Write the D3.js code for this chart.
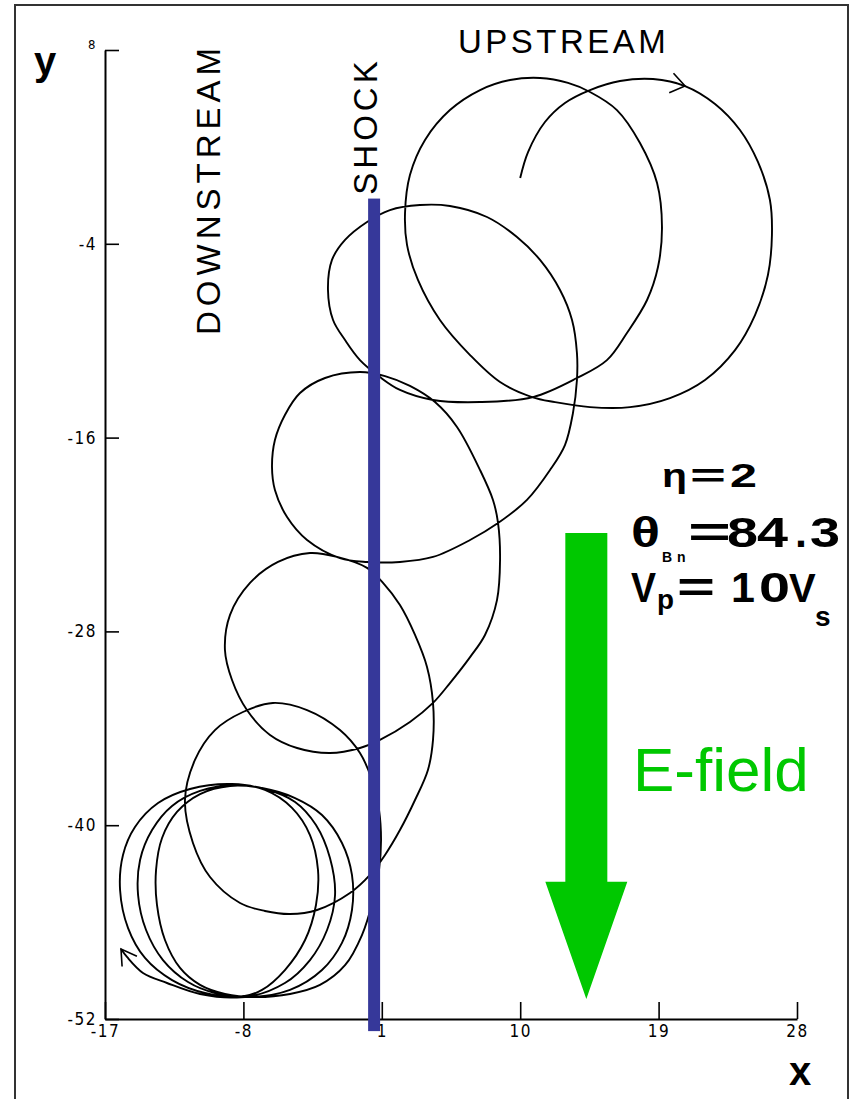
<!DOCTYPE html>
<html><head><meta charset="utf-8">
<script src="https://cdn.jsdelivr.net/npm/d3@7"></script>
<style>body{margin:0;background:#fff}svg{display:block}</style>
</head><body>
<svg id="c" width="853" height="1099"></svg>
<script>
// ---- data ----
const xTicks = [-17, -8, 1, 10, 19, 28];
const xTickLabels = ["-17", "-8", "1", "10", "19", "28"];
const yTicks = [8, -4, -16, -28, -40, -52];
const yTickLabels = ["8", "-4", "-16", "-28", "-40", "-52"];

// particle trajectory (x, y), in time order
const trajX = [10.0,10.51,11.61,12.91,14.54,16.49,18.64,20.72,22.67,24.29,25.46,26.24,26.37,26.11,25.27,23.97,22.02,19.74,17.14,14.54,
 12.26,10.77,8.69,6.74,4.78,3.35,2.64,2.51,2.83,3.81,5.43,7.39,9.34,11.29,13.11,14.54,16.29,17.79,18.90,19.22,
 18.96,18.25,16.94,15.64,13.69,10.83,7.39,4.33,2.18,0.88,-0.42,-1.39,-2.17,-2.50,-2.24,-1.39,0.04,1.53,3.48,5.43,
 7.84,9.79,11.29,12.59,13.37,13.69,13.69,13.43,12.91,11.94,10.44,8.56,6.74,4.33,2.18,0.04,-1.72,-3.86,-5.16,-5.95,
 -6.14,-5.95,-5.30,-4.32,-2.69,-0.42,1.21,2.83,4.46,5.89,7.39,8.23,8.56,8.69,8.49,7.71,6.74,5.43,4.33,2.83,
 0.88,-0.42,-2.37,-4.51,-6.27,-7.77,-8.74,-9.20,-8.87,-7.57,-5.75,-3.67,-1.91,0.04,1.08,2.18,3.16,3.94,4.33,4.33,
 4.00,3.16,2.18,1.21,0.23,-1.07,-3.21,-4.97,-6.60,-8.22,-10.17,-11.28,-11.80,-11.15,-9.85,-8.03,-6.08,-3.86,-1.72,-0.42,
 0.36,0.82,0.95,0.82,0.43,-0.29,-1.39,-3.02,-4.97,-7.25,-9.20,-10.82,-12.12,-13.10,-13.62,-13.68,-13.29,-12.32,-10.82,-8.87,
 -6.79,-4.64,-2.89,-1.59,-0.94,-0.94,-1.59,-2.89,-4.97,-7.57,-9.85,-11.60,-13.23,-14.33,-14.85,-14.72,-13.94,-12.64,-10.82,-8.55,
 -6.60,-4.64,-3.28,-2.37,-2.04,-2.56,-3.67,-5.30,-7.90,-10.50,-12.64,-14.40,-15.50,-16.02,-15.83,-15.05,-13.55,-11.47,-8.74,-6.60,
 -4.84,-3.67,-3.15,-3.28,-3.99,-5.30,-6.79,-8.22,-10.82,-12.97,-14.53,-15.57,-15.96];
const trajY = [0.07,1.68,3.54,4.72,5.52,6.08,6.20,5.77,4.66,3.05,1.07,-1.29,-3.46,-5.93,-8.41,-10.58,-12.43,-13.55,-14.11,-14.11,
 -13.80,-13.49,-12.56,-10.89,-8.72,-6.24,-4.07,-2.09,0.26,2.43,4.28,5.52,6.14,6.27,5.96,5.40,4.28,2.24,-0.24,-2.96,
 -5.44,-7.48,-9.52,-11.20,-12.31,-13.49,-13.80,-13.67,-13.05,-12.25,-11.20,-9.96,-8.72,-6.86,-5.00,-3.76,-2.65,-1.91,-1.60,-1.66,
 -2.34,-3.58,-5.00,-6.86,-8.72,-10.76,-12.43,-14.48,-16.46,-18.01,-19.86,-21.29,-22.34,-23.39,-23.70,-23.70,-23.46,-22.34,-20.92,-19.24,
 -17.82,-16.15,-14.60,-13.24,-12.31,-11.94,-12.19,-12.80,-13.80,-15.34,-18.01,-19.86,-21.29,-23.58,-26.06,-28.22,-29.59,-31.20,-32.43,-33.61,
 -34.72,-35.22,-35.53,-35.22,-34.41,-32.87,-31.01,-29.15,-26.98,-25.00,-23.70,-23.15,-23.39,-24.07,-25.00,-26.37,-28.22,-30.20,-32.43,-34.72,
 -36.58,-38.44,-40.30,-41.84,-43.08,-44.20,-45.25,-45.50,-45.31,-44.82,-43.21,-41.10,-38.44,-35.96,-34.11,-32.99,-32.43,-32.87,-34.11,-35.53,
 -37.20,-39.06,-40.92,-42.77,-44.63,-46.80,-48.67,-49.89,-50.45,-50.64,-50.45,-49.89,-48.84,-47.11,-44.94,-42.77,-40.79,-39.18,-38.07,-37.57,
 -37.70,-38.32,-39.37,-41.10,-43.08,-45.25,-47.29,-48.97,-50.20,-50.64,-50.39,-49.71,-48.35,-46.49,-44.32,-42.15,-40.30,-38.81,-37.88,-37.51,
 -37.76,-38.56,-39.99,-42.03,-44.32,-46.49,-48.35,-49.77,-50.64,-50.39,-49.59,-48.22,-46.37,-44.01,-41.84,-40.11,-38.63,-37.76,-37.45,-37.82,
 -38.93,-40.61,-42.77,-44.94,-47.11,-48.97,-50.20,-50.64,-50.45,-49.77,-49.15,-48.16,-47.67];

const shockX = 0.5, shockTop = -1.2, shockBottom = -52.75;
const efieldX = 14.3, efieldTop = -21.9, efieldHeadBase = -43.5, efieldTip = -50.76;
const midArrowIndex = 7;

// ---- drawing ----
const svg = d3.select("#c");
const FONT = "'Liberation Sans', Arial, Helvetica, sans-serif";
const TICKFONT = "'Liberation Sans Narrow', 'DejaVu Sans Condensed', 'DejaVu Sans', sans-serif";

svg.append("rect").attr("x",15).attr("y",5).attr("width",833).attr("height",1110)
  .attr("fill","none").attr("stroke","#333").attr("stroke-width",2);

const x = d3.scaleLinear().domain([-17, 28]).range([105, 797]);
const y = d3.scaleLinear().domain([-52, 8]).range([1019, 50]);

const gx = svg.append("g").attr("transform", `translate(0,${y(-52)})`)
  .call(d3.axisBottom(x).tickValues(xTicks).tickFormat((d,i)=>xTickLabels[i])
    .tickSizeInner(-17).tickSizeOuter(0).tickPadding(6));
const gy = svg.append("g").attr("transform", `translate(${x(-17)},0)`)
  .call(d3.axisLeft(y).tickValues(yTicks).tickFormat((d,i)=>yTickLabels[i])
    .tickSizeInner(-14).tickSizeOuter(0).tickPadding(8));
[gx, gy].forEach(g => {
  g.attr("font-size", null).attr("font-family", null);
  g.select(".domain").attr("stroke","#000").attr("stroke-width",2);
  g.selectAll(".tick line").attr("stroke","#000").attr("stroke-width",1.6);
  g.selectAll(".tick text").attr("fill","#000")
    .style("font-size","17px").style("font-family",TICKFONT).style("letter-spacing","1.5px");
});
gy.selectAll(".tick text").filter(d => d === 8).attr("dy","-0.1em").style("font-size","13px");

// trajectory
const idx = d3.range(trajX.length);
const defs = svg.append("defs");
defs.append("marker").attr("id","arr").attr("markerUnits","userSpaceOnUse")
  .attr("viewBox","-20 -15 24 30").attr("markerWidth",24).attr("markerHeight",30)
  .attr("refX",0).attr("refY",0).attr("orient","auto")
  .append("path").attr("d","M-15,-9L0,0L-15,9").attr("fill","none")
  .attr("stroke","#000").attr("stroke-width",1.6);

const line = d3.line().x(i => x(trajX[i])).y(i => y(trajY[i])).curve(d3.curveCatmullRom.alpha(0.5));
svg.append("path").attr("d", line(idx)).attr("fill","none").attr("stroke","#000")
  .attr("stroke-width",1.9).attr("marker-end","url(#arr)");

// mid-path arrowhead
{
  const i = midArrowIndex;
  const px = x(trajX[i]), py = y(trajY[i]);
  const ang = Math.atan2(y(trajY[i]) - y(trajY[i-1]), x(trajX[i]) - x(trajX[i-1])) * 180 / Math.PI;
  svg.append("path").attr("d","M-14,-10L0,0L-14,10")
    .attr("transform",`translate(${px},${py}) rotate(${ang})`)
    .attr("fill","none").attr("stroke","#000").attr("stroke-width",1.6);
}

// shock
svg.append("rect").attr("x", x(shockX) - 6).attr("width", 12)
  .attr("y", y(shockTop)).attr("height", y(shockBottom) - y(shockTop)).attr("fill","#36389a");

// E-field arrow
{
  const cx = x(efieldX), sw = 21, hw = 41;
  const pts = [[cx-sw,y(efieldTop)],[cx+sw,y(efieldTop)],[cx+sw,y(efieldHeadBase)],[cx+hw,y(efieldHeadBase)],
               [cx,y(efieldTip)],[cx-hw,y(efieldHeadBase)],[cx-sw,y(efieldHeadBase)]];
  svg.append("polygon").attr("points", pts.map(p=>p.join(",")).join(" ")).attr("fill","#00c800");
}
svg.append("text").attr("x",633).attr("y",791).attr("font-family",FONT).attr("font-size",62)
  .attr("fill","#00c800").text("E-field");

// region labels
svg.append("text").attr("transform","translate(220,189) rotate(-90)").attr("text-anchor","middle")
  .attr("font-family",FONT).attr("font-size",33).attr("letter-spacing",5).text("DOWNSTREAM");
svg.append("text").attr("transform","translate(377,126) rotate(-90)").attr("text-anchor","middle")
  .attr("font-family",FONT).attr("font-size",33).attr("letter-spacing",4).text("SHOCK");
svg.append("text").attr("x",458).attr("y",53)
  .attr("font-family",FONT).attr("font-size",33).attr("letter-spacing",3.5).text("UPSTREAM");

// axis letters
svg.append("text").attr("x",34).attr("y",75).attr("font-family",FONT).attr("font-weight","bold")
  .attr("font-size",40).text("y");
svg.append("text").attr("x",789).attr("y",1085).attr("font-family",FONT).attr("font-weight","bold")
  .attr("font-size",40).text("x");

// parameter block: [char, x, baseline, size, advance (stretched) or null]
const glyphs = [
  ["η",662,487,34,25],["=",690,487,34,36],["2",730,487,34,27],
  ["θ",631,547,42,29],["B",662,562,14,null],["n",677,562,14,null],["=",688,547,42,43],
  ["8",727,547,43,31],["4",757,547,43,31],[".",795,547,43,null],["3",810,547,43,30],
  ["V",631,602,42,25],["p",657,609,28,17],["=",677,602,42,38],
  ["1",731,602,43,null],["0",759,602,43,31],["V",789,602,40,null],["s",815,626,28,null]
];
glyphs.forEach(([ch,gx_,gy_,fs,tl]) => {
  const t = svg.append("text").attr("x",gx_).attr("y",gy_).attr("font-family",FONT)
    .attr("font-weight","bold").attr("font-size",fs).attr("fill","#000").text(ch);
  if (tl) t.attr("textLength",tl).attr("lengthAdjust","spacingAndGlyphs");
});
</script>
</body></html>
